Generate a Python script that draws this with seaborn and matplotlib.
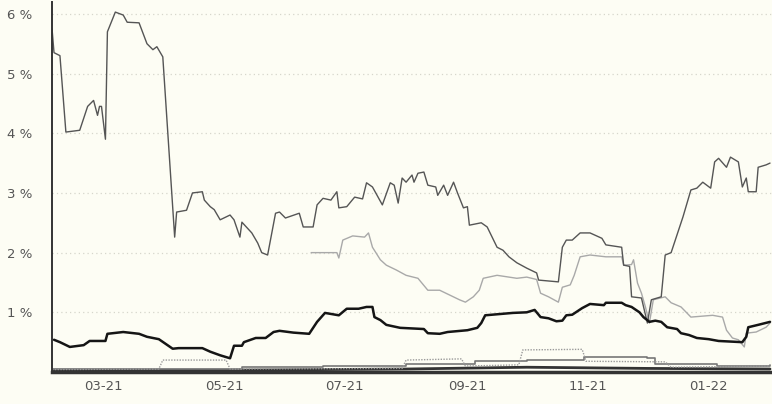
import pandas as pd
import matplotlib.pyplot as plt
import matplotlib.dates as mdates
import seaborn as sns
from matplotlib.ticker import FuncFormatter

# series 1 - dark grey, the high one
top_dates = ["2021-02-03", "2021-02-04", "2021-02-07", "2021-02-10", "2021-02-17", "2021-02-21",
             "2021-02-24", "2021-02-26", "2021-02-27", "2021-02-28", "2021-03-02", "2021-03-03",
             "2021-03-07", "2021-03-11", "2021-03-13", "2021-03-19", "2021-03-23", "2021-03-26",
             "2021-03-28", "2021-03-31", "2021-04-06", "2021-04-07", "2021-04-12", "2021-04-15",
             "2021-04-20", "2021-04-21", "2021-04-24", "2021-04-26", "2021-04-29", "2021-05-04",
             "2021-05-06", "2021-05-09", "2021-05-10", "2021-05-15", "2021-05-18", "2021-05-20",
             "2021-05-23", "2021-05-27", "2021-05-29", "2021-06-01", "2021-06-08", "2021-06-10",
             "2021-06-15", "2021-06-17", "2021-06-20", "2021-06-24", "2021-06-27", "2021-06-28",
             "2021-07-02", "2021-07-06", "2021-07-10", "2021-07-12", "2021-07-15", "2021-07-20",
             "2021-07-24", "2021-07-26", "2021-07-28", "2021-07-30", "2021-08-01", "2021-08-04",
             "2021-08-05", "2021-08-07", "2021-08-10", "2021-08-12", "2021-08-16", "2021-08-17",
             "2021-08-20", "2021-08-22", "2021-08-25", "2021-08-27", "2021-08-30", "2021-09-01",
             "2021-09-02", "2021-09-08", "2021-09-11", "2021-09-16", "2021-09-19", "2021-09-22",
             "2021-09-26", "2021-10-01", "2021-10-06", "2021-10-07", "2021-10-17", "2021-10-19",
             "2021-10-21", "2021-10-24", "2021-10-28", "2021-11-02", "2021-11-08", "2021-11-10",
             "2021-11-18", "2021-11-19", "2021-11-22", "2021-11-23", "2021-11-28", "2021-12-01",
             "2021-12-03", "2021-12-08", "2021-12-10", "2021-12-13", "2021-12-19", "2021-12-23",
             "2021-12-26", "2021-12-29", "2022-01-02", "2022-01-04", "2022-01-06", "2022-01-10",
             "2022-01-12", "2022-01-16", "2022-01-18", "2022-01-20", "2022-01-21", "2022-01-25",
             "2022-01-26", "2022-01-30", "2022-02-01"]
top_vals = [5.75, 5.35, 5.3, 4.02, 4.05, 4.45,
            4.55, 4.3, 4.45, 4.45, 3.9, 5.7,
            6.03, 5.98, 5.86, 5.85, 5.5, 5.4,
            5.45, 5.28, 2.26, 2.68, 2.71, 3.0,
            3.02, 2.88, 2.77, 2.72, 2.55, 2.63,
            2.55, 2.26, 2.51, 2.33, 2.16, 2.0,
            1.96, 2.66, 2.68, 2.58, 2.66, 2.43,
            2.43, 2.8, 2.91, 2.88, 3.02, 2.75,
            2.77, 2.93, 2.9, 3.17, 3.1, 2.8,
            3.17, 3.13, 2.83, 3.25, 3.18, 3.3,
            3.18, 3.33, 3.35, 3.13, 3.1, 2.96,
            3.13, 2.96, 3.18, 3.0, 2.75, 2.77,
            2.46, 2.5, 2.43, 2.09, 2.04, 1.93,
            1.83, 1.74, 1.66, 1.54, 1.51, 2.09,
            2.21, 2.21, 2.33, 2.33, 2.24, 2.13,
            2.09, 1.79, 1.77, 1.26, 1.24, 0.82,
            1.21, 1.26, 1.96, 2.0, 2.6, 3.05,
            3.08, 3.18, 3.08, 3.52, 3.58, 3.43,
            3.6, 3.52, 3.1, 3.25, 3.02, 3.02,
            3.43, 3.47, 3.5]

# series 2 - light grey, starts mid june
light_dates = ["2021-06-14", "2021-06-27", "2021-06-28", "2021-06-30", "2021-07-05", "2021-07-11",
               "2021-07-13", "2021-07-15", "2021-07-19", "2021-07-22", "2021-07-27", "2021-08-01",
               "2021-08-07", "2021-08-12", "2021-08-18", "2021-08-23", "2021-08-28", "2021-08-31",
               "2021-09-04", "2021-09-07", "2021-09-09", "2021-09-16", "2021-09-26", "2021-10-01",
               "2021-10-06", "2021-10-08", "2021-10-12", "2021-10-17", "2021-10-19", "2021-10-23",
               "2021-10-25", "2021-10-28", "2021-11-02", "2021-11-10", "2021-11-18", "2021-11-19",
               "2021-11-23", "2021-11-24", "2021-11-26", "2021-11-28", "2021-11-30", "2021-12-02",
               "2021-12-04", "2021-12-10", "2021-12-13", "2021-12-18", "2021-12-23", "2022-01-03",
               "2022-01-08", "2022-01-10", "2022-01-13", "2022-01-16", "2022-01-19", "2022-01-20",
               "2022-01-25", "2022-01-30", "2022-02-01"]
light_vals = [2.0, 2.0, 1.91, 2.21, 2.28, 2.26,
              2.33, 2.09, 1.88, 1.79, 1.71, 1.62,
              1.57, 1.37, 1.37, 1.29, 1.21, 1.17,
              1.26, 1.37, 1.57, 1.62, 1.57, 1.59,
              1.55, 1.32, 1.26, 1.17, 1.42, 1.46,
              1.62, 1.93, 1.96, 1.93, 1.93, 1.79,
              1.8, 1.88, 1.49, 1.32, 1.09, 0.82,
              1.21, 1.26, 1.16, 1.09, 0.92, 0.95,
              0.92, 0.7, 0.57, 0.54, 0.42, 0.65,
              0.67, 0.75, 0.82]

# series 3 - black, thick
black_dates = ["2021-02-04", "2021-02-07", "2021-02-12", "2021-02-19", "2021-02-22", "2021-03-02",
               "2021-03-03", "2021-03-11", "2021-03-19", "2021-03-23", "2021-03-29", "2021-04-05",
               "2021-04-08", "2021-04-20", "2021-04-24", "2021-04-29", "2021-05-04", "2021-05-06",
               "2021-05-10", "2021-05-11", "2021-05-17", "2021-05-22", "2021-05-26", "2021-05-29",
               "2021-06-05", "2021-06-13", "2021-06-17", "2021-06-21", "2021-06-28", "2021-07-02",
               "2021-07-08", "2021-07-12", "2021-07-15", "2021-07-16", "2021-07-19", "2021-07-22",
               "2021-07-29", "2021-08-10", "2021-08-12", "2021-08-18", "2021-08-22", "2021-09-01",
               "2021-09-06", "2021-09-08", "2021-09-10", "2021-09-17", "2021-09-24", "2021-10-01",
               "2021-10-05", "2021-10-08", "2021-10-12", "2021-10-16", "2021-10-19", "2021-10-21",
               "2021-10-24", "2021-10-29", "2021-11-02", "2021-11-09", "2021-11-10", "2021-11-18",
               "2021-11-20", "2021-11-23", "2021-11-27", "2021-11-29", "2021-12-02", "2021-12-05",
               "2021-12-08", "2021-12-11", "2021-12-16", "2021-12-18", "2021-12-22", "2021-12-26",
               "2022-01-01", "2022-01-06", "2022-01-18", "2022-01-20", "2022-01-21", "2022-01-26",
               "2022-02-01"]
black_vals = [0.54, 0.5, 0.42, 0.45, 0.52, 0.52,
              0.64, 0.67, 0.64, 0.59, 0.55, 0.39,
              0.4, 0.4, 0.34, 0.28, 0.23, 0.44,
              0.44, 0.5, 0.57, 0.57, 0.67, 0.69,
              0.66, 0.64, 0.84, 0.99, 0.95, 1.06,
              1.06, 1.09, 1.09, 0.92, 0.87, 0.79,
              0.74, 0.72, 0.65, 0.64, 0.67, 0.7,
              0.74, 0.82, 0.95, 0.97, 0.99, 1.0,
              1.04, 0.92, 0.9, 0.85, 0.86, 0.95,
              0.96, 1.07, 1.14, 1.12, 1.16, 1.16,
              1.12, 1.09, 1.0, 0.92, 0.84, 0.86,
              0.84, 0.75, 0.72, 0.65, 0.62, 0.57,
              0.55, 0.52, 0.5, 0.59, 0.75, 0.79,
              0.84]

# series 4-6 - the ones hugging zero
dot_dates = ["2021-02-03", "2021-03-29", "2021-03-31", "2021-05-02", "2021-05-04", "2021-07-30",
             "2021-08-01", "2021-08-29", "2021-08-31", "2021-09-27", "2021-09-29", "2021-10-29",
             "2021-10-31", "2021-12-10", "2021-12-13", "2022-02-01"]
dot_vals = [0.04, 0.05, 0.2, 0.2, 0.05, 0.06,
            0.2, 0.22, 0.1, 0.12, 0.37, 0.38,
            0.18, 0.17, 0.08, 0.1]

mid_dates = ["2021-02-03", "2021-04-01", "2021-05-10", "2021-06-20", "2021-08-01", "2021-09-05",
             "2021-10-01", "2021-10-30", "2021-12-01", "2021-12-05", "2022-01-05", "2022-02-01"]
mid_vals = [0.05, 0.05, 0.08, 0.1, 0.13, 0.18,
            0.2, 0.25, 0.24, 0.13, 0.1, 0.12]

low_dates = ["2021-02-03", "2021-05-01", "2021-08-01", "2021-10-01", "2021-12-01", "2022-02-01"]
low_vals = [0.03, 0.03, 0.05, 0.08, 0.06, 0.05]

tick_dates = ["2021-03-01", "2021-05-01", "2021-07-01", "2021-09-01", "2021-11-01", "2022-01-01"]


def frame(dates, vals):
    return pd.DataFrame({"date": pd.to_datetime(dates), "value": vals})


sns.set_style("white")
plt.rcParams['font.family'] = ['DejaVu Sans']

bg = "#fdfdf4"
fig = plt.figure(figsize=(7.72, 4.04), dpi=100, facecolor=bg)
ax = fig.add_axes([0.0674, 0.0792, 0.9326, 0.916])
ax.set_facecolor(bg)

# horizontal dotted grid only
for y in [1, 2, 3, 4, 5, 6]:
    ax.axhline(y, color="#d6d6cc", lw=0.9, ls=(0, (1, 2.5)), zorder=0)

sns.lineplot(data=frame(low_dates, low_vals), x="date", y="value", ax=ax, color="#333333", lw=2.0)
sns.lineplot(data=frame(mid_dates, mid_vals), x="date", y="value", ax=ax, color="#777777", lw=1.2,
             drawstyle="steps-post")
sns.lineplot(data=frame(dot_dates, dot_vals), x="date", y="value", ax=ax, color="#9a9a9a", lw=1.0,
             ls=(0, (1, 1)))
sns.lineplot(data=frame(light_dates, light_vals), x="date", y="value", ax=ax, color="#a9a9a9", lw=1.0)
sns.lineplot(data=frame(top_dates, top_vals), x="date", y="value", ax=ax, color="#555555", lw=1.0)
sns.lineplot(data=frame(black_dates, black_vals), x="date", y="value", ax=ax, color="#151515", lw=1.8)

ax.set_xlim(pd.Timestamp("2021-02-03"), pd.Timestamp("2022-02-02"))
ax.set_ylim(0, 6.2)
ax.set_xticks(pd.to_datetime(tick_dates))
ax.xaxis.set_major_formatter(mdates.DateFormatter("%m-%y"))
ax.set_yticks([1, 2, 3, 4, 5, 6])
ax.yaxis.set_major_formatter(FuncFormatter(lambda v, p: f"{int(v)} %"))
ax.tick_params(axis="both", length=0, labelsize=9.5, labelcolor="#555555")
ax.tick_params(axis="y", pad=14)
ax.tick_params(axis="x", pad=6)
ax.set_xlabel("")
ax.set_ylabel("")

for s in ["top", "right"]:
    ax.spines[s].set_visible(False)
ax.spines["left"].set_color("#333333")
ax.spines["left"].set_linewidth(1.4)
ax.spines["bottom"].set_color("#333333")
ax.spines["bottom"].set_linewidth(2.5)

fig.savefig("out.png", dpi=100, facecolor=bg)
